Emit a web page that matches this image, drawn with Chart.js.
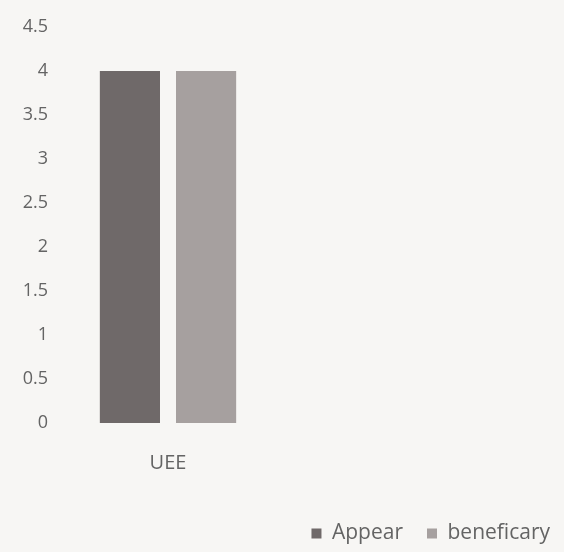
<!DOCTYPE html>
<html>
<head>
<meta charset="utf-8">
<script src="https://cdn.jsdelivr.net/npm/chart.js@4.4.0/dist/chart.umd.min.js"></script>
<style>
	html, body { margin:0; padding:0; background:#f7f6f4; }
	#wrap { width:564px; height:552px; }
</style>
</head>
<body>
<div id="wrap"><canvas id="chart" width="564" height="552"></canvas></div>
<script>
var categories = ['UEE'];
var seriesNames = ['Appear', 'beneficary'];
var appearValues = [4];
var beneficaryValues = [4];
var yTicks = [0, 0.5, 1, 1.5, 2, 2.5, 3, 3.5, 4, 4.5];

var textColor = '#646464';
var font = "'Open Sans', 'DejaVu Sans', sans-serif";

var ctx = document.getElementById('chart').getContext('2d');

var chart = new Chart(ctx, {
	type:'bar',
	data:{
		labels:categories,
		datasets:[
			{label:seriesNames[0], data:appearValues, backgroundColor:'#6f6969', yAxisID:'y'},
			{label:seriesNames[1], data:beneficaryValues, backgroundColor:'#a6a09f', yAxisID:'y'}
		]
	},
	options:{
		responsive:false,
		animation:false,
		categoryPercentage:0.68,
		barPercentage:0.79,
		layout:{padding:{top:27, right:-10, bottom:-2, left:0}},
		plugins:{
			tooltip:{enabled:false},
			legend:{
				position:'bottom',
				align:'end',
				labels:{
					boxWidth:10,
					boxHeight:10,
					padding:24,
					color:textColor,
					font:{family:font, size:21}
				}
			}
		},
		scales:{
			x:{
				grid:{display:false, drawTicks:false},
				border:{display:false},
				ticks:{color:textColor, padding:28, font:{family:font, size:20}},
				afterFit:function(s) { s.height = 76; }
			},
			y:{
				min:0,
				max:4.5,
				grid:{display:false, drawTicks:false},
				border:{display:false},
				afterBuildTicks:function(s) { s.ticks = yTicks.map(function(v) { return {value:v}; }); },
				ticks:{
					color:textColor,
					padding:8,
					font:{family:font, size:18},
					callback:function(v) { return String(v); }
				},
				afterFit:function(s) { s.width = 56; }
			},
			pad:{
				position:'right',
				display:true,
				grid:{display:false, drawTicks:false},
				border:{display:false},
				ticks:{display:false},
				afterFit:function(s) { s.width = 294; }
			}
		}
	}
});
</script>
</body>
</html>
